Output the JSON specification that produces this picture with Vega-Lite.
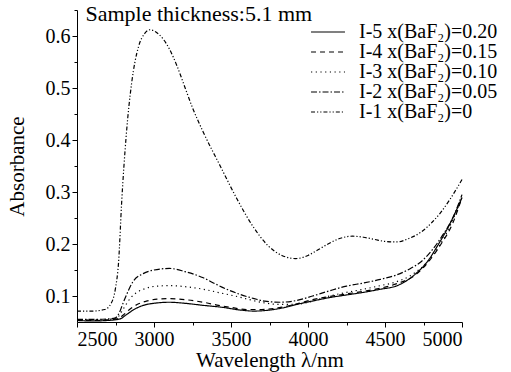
{
  "$schema": "https://vega.github.io/schema/vega-lite/v6.json",
  "width": 385,
  "height": 312,
  "autosize": "none",
  "padding": {"left": 77, "top": 10, "right": 49, "bottom": 50},
  "background": "white",
  "config": {
    "font": "Liberation Serif",
    "view": {"stroke": null},
    "axis": {"labelFont": "Liberation Serif", "titleFont": "Liberation Serif", "domainColor": "black", "tickColor": "black", "labelColor": "black", "titleColor": "black", "labelFontSize": 20, "titleFontSize": 21, "titleFontWeight": "normal", "grid": false, "tickSize": 5, "labelPadding": 2, "domainWidth": 1, "tickWidth": 1},
    "legend": {"labelFont": "Liberation Serif", "labelFontSize": 20, "labelColor": "black"}
  },
  "data": {"values": [
    {"s":"I-1","w":2500,"a":0.071},{"s":"I-1","w":2600,"a":0.071},{"s":"I-1","w":2680,"a":0.074},{"s":"I-1","w":2720,"a":0.085},{"s":"I-1","w":2750,"a":0.115},{"s":"I-1","w":2770,"a":0.165},{"s":"I-1","w":2790,"a":0.28},{"s":"I-1","w":2820,"a":0.41},{"s":"I-1","w":2855,"a":0.51},{"s":"I-1","w":2900,"a":0.58},{"s":"I-1","w":2940,"a":0.605},{"s":"I-1","w":2975,"a":0.612},{"s":"I-1","w":3010,"a":0.608},{"s":"I-1","w":3060,"a":0.594},{"s":"I-1","w":3100,"a":0.575},{"s":"I-1","w":3150,"a":0.542},{"s":"I-1","w":3200,"a":0.502},{"s":"I-1","w":3250,"a":0.462},{"s":"I-1","w":3320,"a":0.415},{"s":"I-1","w":3430,"a":0.35},{"s":"I-1","w":3540,"a":0.286},{"s":"I-1","w":3640,"a":0.235},{"s":"I-1","w":3740,"a":0.197},{"s":"I-1","w":3830,"a":0.178},{"s":"I-1","w":3920,"a":0.172},{"s":"I-1","w":4000,"a":0.178},{"s":"I-1","w":4060,"a":0.188},{"s":"I-1","w":4130,"a":0.2},{"s":"I-1","w":4200,"a":0.21},{"s":"I-1","w":4290,"a":0.215},{"s":"I-1","w":4360,"a":0.213},{"s":"I-1","w":4430,"a":0.209},{"s":"I-1","w":4500,"a":0.205},{"s":"I-1","w":4580,"a":0.204},{"s":"I-1","w":4650,"a":0.21},{"s":"I-1","w":4730,"a":0.222},{"s":"I-1","w":4800,"a":0.24},{"s":"I-1","w":4860,"a":0.26},{"s":"I-1","w":4920,"a":0.285},{"s":"I-1","w":5000,"a":0.324},
    {"s":"I-2","w":2500,"a":0.055},{"s":"I-2","w":2600,"a":0.055},{"s":"I-2","w":2700,"a":0.056},{"s":"I-2","w":2750,"a":0.058},{"s":"I-2","w":2775,"a":0.068},{"s":"I-2","w":2800,"a":0.087},{"s":"I-2","w":2830,"a":0.108},{"s":"I-2","w":2860,"a":0.126},{"s":"I-2","w":2930,"a":0.143},{"s":"I-2","w":3000,"a":0.15},{"s":"I-2","w":3100,"a":0.153},{"s":"I-2","w":3200,"a":0.147},{"s":"I-2","w":3320,"a":0.135},{"s":"I-2","w":3400,"a":0.123},{"s":"I-2","w":3480,"a":0.112},{"s":"I-2","w":3560,"a":0.103},{"s":"I-2","w":3650,"a":0.095},{"s":"I-2","w":3720,"a":0.09},{"s":"I-2","w":3820,"a":0.088},{"s":"I-2","w":3920,"a":0.091},{"s":"I-2","w":4030,"a":0.1},{"s":"I-2","w":4140,"a":0.11},{"s":"I-2","w":4250,"a":0.119},{"s":"I-2","w":4360,"a":0.125},{"s":"I-2","w":4470,"a":0.132},{"s":"I-2","w":4570,"a":0.14},{"s":"I-2","w":4660,"a":0.152},{"s":"I-2","w":4730,"a":0.165},{"s":"I-2","w":4800,"a":0.186},{"s":"I-2","w":4870,"a":0.215},{"s":"I-2","w":4940,"a":0.25},{"s":"I-2","w":5000,"a":0.295},
    {"s":"I-3","w":2500,"a":0.054},{"s":"I-3","w":2600,"a":0.054},{"s":"I-3","w":2700,"a":0.055},{"s":"I-3","w":2760,"a":0.058},{"s":"I-3","w":2790,"a":0.07},{"s":"I-3","w":2815,"a":0.082},{"s":"I-3","w":2850,"a":0.097},{"s":"I-3","w":2890,"a":0.107},{"s":"I-3","w":2950,"a":0.115},{"s":"I-3","w":3020,"a":0.119},{"s":"I-3","w":3100,"a":0.12},{"s":"I-3","w":3200,"a":0.118},{"s":"I-3","w":3320,"a":0.113},{"s":"I-3","w":3430,"a":0.106},{"s":"I-3","w":3540,"a":0.099},{"s":"I-3","w":3620,"a":0.093},{"s":"I-3","w":3710,"a":0.087},{"s":"I-3","w":3800,"a":0.084},{"s":"I-3","w":3920,"a":0.084},{"s":"I-3","w":4030,"a":0.09},{"s":"I-3","w":4140,"a":0.1},{"s":"I-3","w":4250,"a":0.107},{"s":"I-3","w":4360,"a":0.113},{"s":"I-3","w":4470,"a":0.12},{"s":"I-3","w":4570,"a":0.127},{"s":"I-3","w":4670,"a":0.14},{"s":"I-3","w":4770,"a":0.164},{"s":"I-3","w":4850,"a":0.195},{"s":"I-3","w":4930,"a":0.24},{"s":"I-3","w":5000,"a":0.29},
    {"s":"I-4","w":2500,"a":0.053},{"s":"I-4","w":2600,"a":0.053},{"s":"I-4","w":2700,"a":0.054},{"s":"I-4","w":2770,"a":0.057},{"s":"I-4","w":2810,"a":0.066},{"s":"I-4","w":2845,"a":0.075},{"s":"I-4","w":2900,"a":0.085},{"s":"I-4","w":2950,"a":0.09},{"s":"I-4","w":3020,"a":0.094},{"s":"I-4","w":3100,"a":0.095},{"s":"I-4","w":3200,"a":0.093},{"s":"I-4","w":3320,"a":0.088},{"s":"I-4","w":3420,"a":0.082},{"s":"I-4","w":3500,"a":0.078},{"s":"I-4","w":3600,"a":0.074},{"s":"I-4","w":3700,"a":0.074},{"s":"I-4","w":3820,"a":0.078},{"s":"I-4","w":3930,"a":0.085},{"s":"I-4","w":4030,"a":0.093},{"s":"I-4","w":4140,"a":0.099},{"s":"I-4","w":4250,"a":0.104},{"s":"I-4","w":4360,"a":0.109},{"s":"I-4","w":4470,"a":0.115},{"s":"I-4","w":4580,"a":0.124},{"s":"I-4","w":4690,"a":0.139},{"s":"I-4","w":4780,"a":0.165},{"s":"I-4","w":4860,"a":0.198},{"s":"I-4","w":4940,"a":0.24},{"s":"I-4","w":5000,"a":0.29},
    {"s":"I-5","w":2500,"a":0.053},{"s":"I-5","w":2600,"a":0.052},{"s":"I-5","w":2700,"a":0.053},{"s":"I-5","w":2780,"a":0.056},{"s":"I-5","w":2820,"a":0.064},{"s":"I-5","w":2870,"a":0.074},{"s":"I-5","w":2930,"a":0.082},{"s":"I-5","w":3000,"a":0.086},{"s":"I-5","w":3100,"a":0.088},{"s":"I-5","w":3200,"a":0.086},{"s":"I-5","w":3320,"a":0.082},{"s":"I-5","w":3450,"a":0.078},{"s":"I-5","w":3560,"a":0.073},{"s":"I-5","w":3650,"a":0.071},{"s":"I-5","w":3750,"a":0.073},{"s":"I-5","w":3850,"a":0.078},{"s":"I-5","w":3930,"a":0.084},{"s":"I-5","w":4040,"a":0.091},{"s":"I-5","w":4140,"a":0.097},{"s":"I-5","w":4250,"a":0.102},{"s":"I-5","w":4360,"a":0.107},{"s":"I-5","w":4470,"a":0.113},{"s":"I-5","w":4580,"a":0.12},{"s":"I-5","w":4700,"a":0.143},{"s":"I-5","w":4780,"a":0.168},{"s":"I-5","w":4840,"a":0.196},{"s":"I-5","w":4920,"a":0.238},{"s":"I-5","w":5000,"a":0.289}
  ]},
  "resolve": {"axis": {"x": "independent", "y": "independent"}},
  "layer": [
    {
      "mark": {"type": "line", "interpolate": "monotone", "color": "black", "strokeWidth": 1.2},
      "encoding": {
        "x": {"field": "w", "type": "quantitative", "scale": {"domain": [2500, 5000], "nice": false},
          "axis": {"values": [2500, 3000, 3500, 4000, 4500, 5000], "format": "d", "title": "Wavelength λ/nm", "titlePadding": 0}},
        "y": {"field": "a", "type": "quantitative", "scale": {"domain": [0.05, 0.65], "nice": false, "zero": false},
          "axis": {"values": [0.1, 0.2, 0.3, 0.4, 0.5, 0.6], "format": ".1f", "title": "Absorbance", "titlePadding": 18}},
        "strokeDash": {"field": "s", "type": "nominal",
          "scale": {"domain": ["I-5", "I-4", "I-3", "I-2", "I-1"], "range": [[1, 0], [5, 4], [1.2, 3.5], [6, 2, 1.5, 2], [4, 2, 1.2, 2, 1.2, 2]]},
          "legend": {"title": null, "orient": "none", "legendX": 241, "legendY": 12, "padding": 0,
            "symbolType": "M-4,0H4", "symbolSize": 72, "symbolStrokeColor": "black", "symbolStrokeWidth": 1.2,
            "labelOffset": 21, "rowPadding": 0,
            "labelExpr": "datum.label == 'I-5' ? 'I-5 x(BaF₂)=0.20' : datum.label == 'I-4' ? 'I-4 x(BaF₂)=0.15' : datum.label == 'I-3' ? 'I-3 x(BaF₂)=0.10' : datum.label == 'I-2' ? 'I-2 x(BaF₂)=0.05' : 'I-1 x(BaF₂)=0'"}}
      }
    },
    {
      "data": {"values": [{"label": "Sample thickness:5.1 mm"}]},
      "mark": {"type": "text", "align": "left", "baseline": "alphabetic", "fontSize": 22, "font": "Liberation Serif", "color": "black"},
      "encoding": {
        "text": {"field": "label"},
        "x": {"datum": 2555, "type": "quantitative",
          "axis": {"orient": "bottom", "values": [2750, 3250, 3750, 4250, 4750], "labels": false, "tickSize": 3, "domain": false, "title": null}},
        "y": {"datum": 0.628, "type": "quantitative",
          "axis": {"orient": "left", "values": [0.15, 0.25, 0.35, 0.45, 0.55, 0.65], "labels": false, "tickSize": 3, "domain": false, "title": null}}
      }
    }
  ]
}
